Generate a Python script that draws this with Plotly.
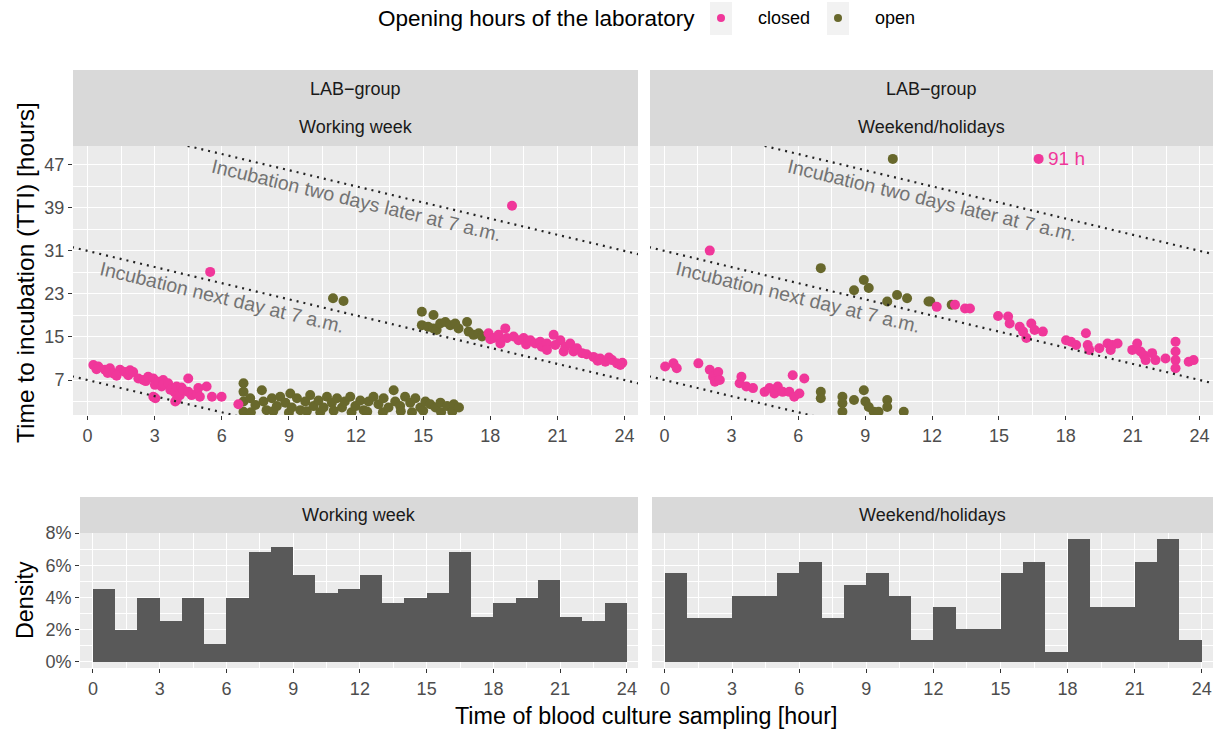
import plotly.graph_objects as go

W, H = 1225, 730

# ---------------- data ----------------
# Working week, laboratory closed
ww_closed_x = [0.26, 0.48, 0.40, 0.78, 1.00, 0.90, 1.15, 1.45, 1.30, 1.67, 1.82, 1.90, 2.04, 2.27,
               2.49, 2.60, 2.71, 2.94, 3.01, 2.94, 3.03, 3.16, 3.38, 3.31, 3.40, 3.60, 3.70, 3.90,
               3.92, 3.98, 3.98, 4.13, 4.20, 4.28, 4.50, 4.50, 4.65, 4.89, 4.95, 5.02, 5.32, 5.56,
               5.99, 6.74, 5.48,
               17.92, 18.00, 18.15, 18.37, 18.45, 18.67, 18.74, 19.04, 19.26, 19.49, 19.60, 19.79,
               20.01, 20.23, 20.30, 20.53, 20.53, 20.83, 20.90, 21.13, 21.28, 21.35, 21.57, 21.72,
               21.87, 22.10, 22.30, 22.61, 22.80, 22.91, 23.14, 23.30, 23.44, 23.66, 23.81, 23.90,
               18.97]
ww_closed_y = [9.8, 9.5, 9.0, 8.9, 9.2, 8.3, 8.2, 8.9, 7.8, 8.5, 7.9, 8.8, 8.5, 7.3,
               7.0, 6.8, 7.6, 7.3, 6.1, 3.9, 3.6, 6.7, 7.0, 5.8, 6.2, 6.4, 5.2, 4.7,
               3.0, 5.8, 3.3, 4.2, 5.6, 5.1, 7.3, 4.8, 4.2, 4.5, 5.5, 3.9, 5.8, 3.9,
               3.9, 2.5, 27.1,
               15.7, 14.6, 14.8, 15.4, 13.8, 16.6, 14.8, 15.1, 14.4, 14.8, 13.6, 14.4,
               13.8, 14.1, 13.2, 13.8, 12.6, 15.4, 13.5, 14.4, 12.3, 13.2, 13.8, 12.3,
               12.9, 12.0, 11.8, 11.3, 10.6, 11.0, 10.4, 11.2, 10.7, 10.1, 9.8, 10.2,
               39.4]

# Working week, laboratory open
ww_open_x = [6.97, 6.97, 6.97, 6.97, 7.27, 7.30, 7.50, 7.79, 7.86, 8.00, 8.24, 8.30, 8.46, 8.61,
             8.84, 9.00, 9.06, 9.13, 9.36, 9.51, 9.73, 9.80, 9.95, 10.10, 10.32, 10.40, 10.55,
             10.70, 10.92, 11.00, 11.15, 11.37, 11.50, 11.74, 11.80, 11.97, 12.19, 12.34, 12.50,
             12.56, 12.78, 13.00, 13.20, 13.23, 13.45, 13.68, 13.75, 13.97, 14.00, 14.19, 14.42,
             14.50, 14.65, 14.87, 15.00, 15.10, 15.32, 15.55, 15.77, 15.80, 16.07, 16.30, 16.37,
             16.60,
             10.97, 11.44,
             14.94, 14.94, 15.22, 15.46, 15.46, 15.60, 15.76, 15.99, 16.21, 16.43, 16.58, 16.96,
             17.03, 17.25, 17.48, 17.63]
ww_open_y = [6.4, 4.8, 3.0, 1.1, 3.6, 1.0, 2.35, 5.1, 3.0, 1.4, 3.6, 1.2, 2.15, 3.9,
             2.8, 0.9, 4.5, 1.9, 3.6, 1.4, 3.0, 1.2, 4.2, 2.15, 3.2, 1.0, 1.9,
             3.9, 2.8, 1.3, 3.6, 1.9, 3.0, 3.9, 1.0, 2.15, 3.2, 1.4, 1.1,
             3.0, 3.9, 2.5, 1.0, 3.6, 1.9, 5.1, 3.0, 2.15, 1.2, 3.9, 2.8,
             1.0, 3.6, 1.9, 1.3, 3.0, 2.5, 1.9, 2.8, 1.0, 2.15, 1.1, 2.5,
             1.9,
             22.2, 21.7,
             19.7, 17.2, 16.9, 19.1, 16.6, 16.3, 17.5, 17.8, 17.2, 17.5, 16.6, 17.8,
             16.0, 15.4, 15.7, 15.1]

# Weekend / holidays, laboratory closed
we_closed_x = [0.03, 0.40, 0.55, 1.52, 2.03, 2.18, 2.41, 2.26, 2.48, 3.45, 3.37, 3.67, 3.97, 4.49,
               4.71, 4.93, 5.08, 5.30, 5.60, 5.75, 5.82, 6.05, 6.27, 2.03,
               12.21, 13.03, 13.48, 13.70, 14.96, 15.41, 15.48, 15.93, 16.08, 16.23, 16.45, 16.60,
               16.97, 18.01, 18.23, 18.46, 18.90, 18.98, 19.05, 19.50, 19.87, 20.01, 20.09, 20.32,
               20.98, 21.20, 21.35, 21.50, 21.58, 21.87, 22.02, 22.47, 22.92, 22.92, 22.92, 22.92,
               23.51, 23.73, 16.78]
we_closed_y = [9.5, 10.1, 9.2, 10.1, 8.9, 7.6, 8.5, 6.7, 7.0, 7.6, 6.4, 5.8, 5.5, 4.8,
               5.5, 4.5, 5.8, 4.8, 4.8, 7.9, 3.9, 4.5, 7.3, 31.06,
               20.6, 21.0, 20.3, 20.3, 18.9, 18.8, 17.5, 16.9, 16.0, 14.8, 17.5, 16.3,
               16.0, 14.4, 14.1, 13.5, 15.7, 13.5, 12.6, 12.9, 13.8, 12.6, 13.5, 13.8,
               12.6, 13.8, 12.3, 11.6, 10.7, 12.0, 10.7, 11.0, 14.1, 12.3, 10.7, 9.2,
               10.4, 10.7, 48.1]

# Weekend / holidays, laboratory open
we_open_x = [7.01, 7.01, 7.98, 7.98, 7.98, 8.50, 8.94, 9.01, 9.16, 9.38, 9.60, 9.99, 9.99, 10.73,
             7.01, 8.94, 9.16, 8.50, 9.99, 10.43, 10.88, 11.84, 11.92, 12.88, 10.24]
we_open_y = [4.8, 3.6, 3.9, 2.7, 1.1, 3.3, 5.1, 3.0, 2.0, 1.1, 1.1, 3.3, 2.0, 1.1,
             27.8, 25.6, 24.1, 23.7, 21.6, 22.8, 22.2, 21.6, 21.6, 21.0, 48.1]

# Outlier label (point drawn at the top of the panel)
outlier_label = "91 h"
outlier_x, outlier_y = 16.78, 48.1

# Histogram of sampling time: 1-hour bins, density in %
hour_edges = list(range(25))
ww_density = [4.55, 1.96, 3.97, 2.52, 3.97, 1.12, 3.97, 6.84, 7.11, 5.37, 4.26, 4.55,
              5.37, 3.68, 3.97, 4.26, 6.84, 2.81, 3.68, 3.97, 5.10, 2.81, 2.52, 3.68]
we_density = [5.49, 2.73, 2.73, 4.10, 4.10, 5.49, 6.21, 2.73, 4.80, 5.49, 4.10, 1.35,
              3.42, 2.03, 2.03, 5.49, 6.21, 0.62, 7.62, 3.42, 3.42, 6.21, 7.62, 1.35]

# Reference lines: TTI at midnight when incubating at 7 a.m. same / next / two days later
line_offsets = [7, 31, 55]
line_labels = {31: "Incubation next day at 7 a.m.", 55: "Incubation two days later at 7 a.m."}
label_x = {31: 6.0, 55: 12.0}

tick_x = [0, 3, 6, 9, 12, 15, 18, 21, 24]
tick_tti = [7, 15, 23, 31, 39, 47]
tick_dens = [0, 2, 4, 6, 8]
tick_dens_text = ["0%", "2%", "4%", "6%", "8%"]

# ---------------- styling ----------------
PINK = "#F0379A"
OLIVE = "#68682C"
FONT = "Liberation Sans"
BG = "#EBEBEB"
STRIP = "#D9D9D9"


def X(p):
    """window pixel (from left) -> paper x"""
    return p / W


def Y(p):
    """window pixel (from top) -> paper y"""
    return 1 - p / H


fig = go.Figure()

panels = [("x", "y", ww_closed_x, ww_closed_y, ww_open_x, ww_open_y),
          ("x2", "y2", we_closed_x, we_closed_y, we_open_x, we_open_y)]
for xa, ya, cx, cy, ox, oy in panels:
    fig.add_trace(go.Scatter(x=ox, y=oy, mode="markers", name="open", xaxis=xa, yaxis=ya,
                             marker=dict(color=OLIVE, size=10, line=dict(width=0)),
                             showlegend=False))
    fig.add_trace(go.Scatter(x=cx, y=cy, mode="markers", name="closed", xaxis=xa, yaxis=ya,
                             marker=dict(color=PINK, size=10, line=dict(width=0)),
                             showlegend=False))
    for c in line_offsets:
        xs = [-1, 25]
        fig.add_trace(go.Scatter(x=xs, y=[c - v for v in xs], mode="lines", xaxis=xa, yaxis=ya,
                                 line=dict(color="#222222", width=2.2, dash="2px,5px"),
                                 hoverinfo="skip", showlegend=False))
        if c in line_labels:
            fig.add_annotation(x=label_x[c], y=c - label_x[c] - 2.5, xref=xa, yref=ya,
                               text=line_labels[c], showarrow=False, textangle=13.5,
                               xanchor="center", yanchor="middle",
                               font=dict(family=FONT, size=19.5, color="#737373"))

fig.add_annotation(x=outlier_x + 0.35, y=outlier_y, xref="x2", yref="y2", text=outlier_label,
                   showarrow=False, xanchor="left", yanchor="middle",
                   font=dict(family=FONT, size=19, color=PINK))

centers = [(a + b) / 2 for a, b in zip(hour_edges[:-1], hour_edges[1:])]
for xa, ya, dens in [("x3", "y3", ww_density), ("x4", "y4", we_density)]:
    fig.add_trace(go.Bar(x=centers, y=dens, width=1, xaxis=xa, yaxis=ya,
                         marker=dict(color="#595959", line=dict(width=0)), showlegend=False))

tickfont = dict(family=FONT, size=18, color="#4D4D4D")
common = dict(showgrid=True, gridcolor="white", gridwidth=1.4, zeroline=False, showline=False,
              ticks="outside", ticklen=4, tickwidth=1.4, tickcolor="#333333", tickfont=tickfont,
              automargin=False)
xcommon = dict(common, tickmode="array", tickvals=tick_x,
               minor=dict(tickmode="linear", tick0=1.5, dtick=3, showgrid=True,
                          gridcolor="white", gridwidth=0.6, ticks=""))

top_dom = [Y(415), Y(146)]
bot_dom = [Y(668), Y(533)]

ytop = dict(common, range=[0.5, 50.5], tickmode="array", tickvals=tick_tti,
            minor=dict(tickmode="linear", tick0=3, dtick=8, showgrid=True,
                       gridcolor="white", gridwidth=0.6, ticks=""))
ybot = dict(common, range=[-0.381, 8.001], tickmode="array", tickvals=tick_dens,
            ticktext=tick_dens_text,
            minor=dict(tickmode="linear", tick0=1, dtick=2, showgrid=True,
                       gridcolor="white", gridwidth=0.6, ticks=""))

fig.update_layout(
    width=W, height=H, margin=dict(l=0, r=0, t=0, b=0, pad=0, autoexpand=False),
    paper_bgcolor="white", plot_bgcolor=BG, bargap=0, showlegend=False,
    xaxis=dict(xcommon, domain=[X(73), X(638)], range=[-0.65, 24.6], anchor="y"),
    xaxis2=dict(xcommon, domain=[X(650), X(1213)], range=[-0.65, 24.6], anchor="y2"),
    xaxis3=dict(xcommon, domain=[X(80), X(638)], range=[-0.58, 24.5], anchor="y3"),
    xaxis4=dict(xcommon, domain=[X(652), X(1213)], range=[-0.58, 24.5], anchor="y4"),
    yaxis=dict(ytop, domain=top_dom, anchor="x"),
    yaxis2=dict(ytop, domain=top_dom, anchor="x2", showticklabels=False, ticks=""),
    yaxis3=dict(ybot, domain=bot_dom, anchor="x3"),
    yaxis4=dict(ybot, domain=bot_dom, anchor="x4", showticklabels=False, ticks=""),
)

# facet strips
strips = [
    (73, 638, 70, 146, ["LAB\u2212group", "Working week"]),
    (650, 1213, 70, 146, ["LAB\u2212group", "Weekend/holidays"]),
    (80, 638, 497, 533, ["Working week"]),
    (652, 1213, 497, 533, ["Weekend/holidays"]),
]
stripfont = dict(family=FONT, size=18, color="#1A1A1A")
for x0, x1, y0, y1, labels in strips:
    fig.add_shape(type="rect", xref="paper", yref="paper", x0=X(x0), x1=X(x1), y0=Y(y1), y1=Y(y0),
                  fillcolor=STRIP, line=dict(width=0), layer="below")
    n = len(labels)
    step = (y1 - y0) / n
    for i, lab in enumerate(labels):
        fig.add_annotation(x=X((x0 + x1) / 2), y=Y(y0 + step * (i + 0.5)), xref="paper",
                           yref="paper", text=lab, showarrow=False, font=stripfont,
                           xanchor="center", yanchor="middle")

# axis titles
titlefont = dict(family=FONT, size=23.3, color="black")
fig.add_annotation(x=X(25), y=Y(273), xref="paper", yref="paper", showarrow=False,
                   text="Time to incubation (TTI) [hours]", textangle=-90,
                   font=dict(family=FONT, size=24.5, color="black"),
                   xanchor="center", yanchor="middle")
fig.add_annotation(x=X(25), y=Y(600), xref="paper", yref="paper", showarrow=False,
                   text="Density", textangle=-90, font=titlefont,
                   xanchor="center", yanchor="middle")
fig.add_annotation(x=X(646), y=Y(716), xref="paper", yref="paper", showarrow=False,
                   text="Time of blood culture sampling [hour]", font=titlefont,
                   xanchor="center", yanchor="middle")

# legend (drawn manually, ggplot style)
fig.add_annotation(x=X(697), y=Y(18), xref="paper", yref="paper", showarrow=False,
                   xanchor="right", yanchor="middle", text="Opening hours of the laboratory",
                   font=dict(family=FONT, size=22.5, color="black"))
for cx, col, lab in [(721, PINK, "closed"), (838, OLIVE, "open")]:
    fig.add_shape(type="rect", xref="paper", yref="paper", x0=X(cx - 11), x1=X(cx + 11),
                  y0=Y(35), y1=Y(2), fillcolor="#F2F2F2", line=dict(width=0))
    fig.add_shape(type="circle", xref="paper", yref="paper", x0=X(cx - 4), x1=X(cx + 4),
                  y0=Y(22), y1=Y(14), fillcolor=col, line=dict(width=0))
    fig.add_annotation(x=X(cx + 35), y=Y(18), xref="paper", yref="paper", showarrow=False,
                       xanchor="left", yanchor="middle", text=lab,
                       font=dict(family=FONT, size=18, color="black"))

# remove the default 8px page margin so the figure fills the 1225x730 window exactly
fig.write_html("out.html",
               config={"displayModeBar": False},
               post_script="document.body.style.margin='0px';"
                           "document.body.style.overflow='hidden';")
